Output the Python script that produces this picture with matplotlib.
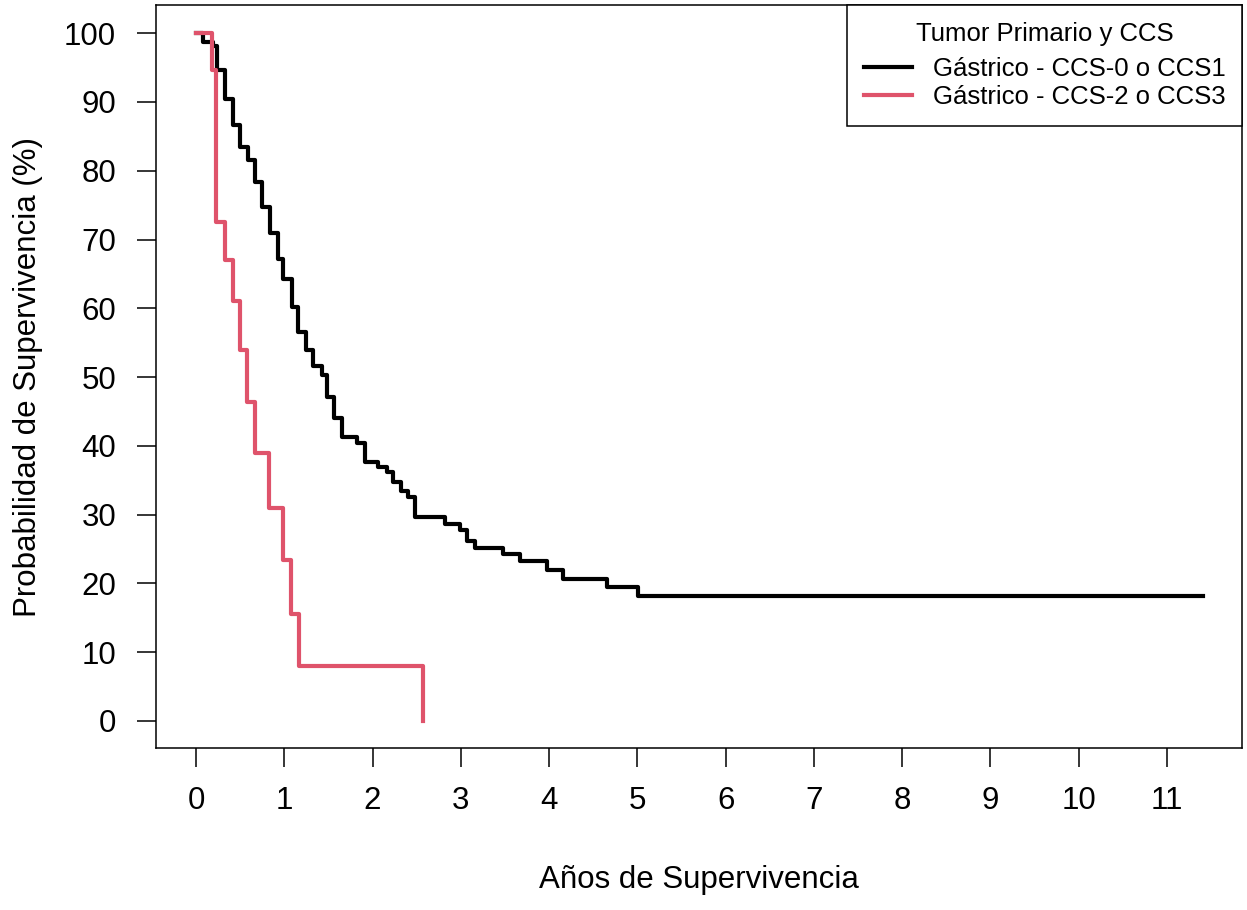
import numpy as np
import matplotlib.pyplot as plt

plt.rcParams['font.family'] = ['Liberation Sans', 'DejaVu Sans']

# Kaplan-Meier steps (years, % survival)
t_low = [0, 0.08, 0.19, 0.235, 0.33, 0.42, 0.50, 0.59, 0.67, 0.75, 0.84, 0.93,
         0.99, 1.09, 1.16, 1.24, 1.33, 1.43, 1.48, 1.56, 1.65, 1.82, 1.91, 2.06,
         2.16, 2.23, 2.32, 2.40, 2.48, 2.82, 2.99, 3.07, 3.16, 3.48, 3.67, 3.98,
         4.16, 4.66, 5.01, 11.41]
s_low = [100, 98.7, 98.2, 94.7, 90.5, 86.7, 83.5, 81.5, 78.3, 74.8, 71.0, 67.2,
         64.3, 60.2, 56.6, 53.9, 51.6, 50.3, 47.1, 44.0, 41.3, 40.4, 37.6, 36.9,
         36.2, 34.8, 33.4, 32.5, 29.6, 28.7, 27.8, 26.1, 25.2, 24.3, 23.2, 22.0,
         20.7, 19.4, 18.1, 18.1]

t_high = [0, 0.18, 0.23, 0.33, 0.42, 0.50, 0.58, 0.67, 0.83, 0.99, 1.08, 1.17, 2.57]
s_high = [100, 94.7, 72.6, 67.0, 61.0, 54.0, 46.4, 38.9, 31.0, 23.4, 15.6, 8.0, 0]

labels = ['Gástrico - CCS-0 o CCS1', 'Gástrico - CCS-2 o CCS3']
colors = ['black', '#DF536B']

fig = plt.figure(figsize=(12.47, 9.10), dpi=100)
ax = fig.add_axes([0.1249, 0.1778, 0.8714, 0.8167])

ax.step(t_low, s_low, where='post', color=colors[0], lw=3, label=labels[0])
ax.step(t_high, s_high, where='post', color=colors[1], lw=3, label=labels[1])

ax.set_xlim(-0.457, 11.856)
ax.set_ylim(-3.97, 104.1)
ax.set_xticks(range(0, 12))
ax.set_yticks(range(0, 101, 10))
ax.tick_params(labelsize=22.5, length=13.5, width=1.1)
ax.tick_params(axis='x', pad=14)
ax.tick_params(axis='y', pad=15)
for sp in ax.spines.values():
    sp.set_linewidth(1.1)

ax.set_xlabel('Años de Supervivencia', fontsize=22.5, labelpad=35)
ax.set_ylabel('Probabilidad de Supervivencia (%)', fontsize=22.5, labelpad=15)

leg = ax.legend(title='Tumor Primario y CCS', loc='lower right', fontsize=18.5,
                title_fontsize=18.5, fancybox=False, edgecolor='black',
                borderaxespad=0, handlelength=1.9, handletextpad=0.8,
                borderpad=0.65, labelspacing=0.15, framealpha=1,
                bbox_to_anchor=(1.0, 0.8372))
leg._legend_box.sep = 8.5  # extra gap between title and entries
leg.get_frame().set_linewidth(1.1)

fig.savefig('out.png', dpi=100)
